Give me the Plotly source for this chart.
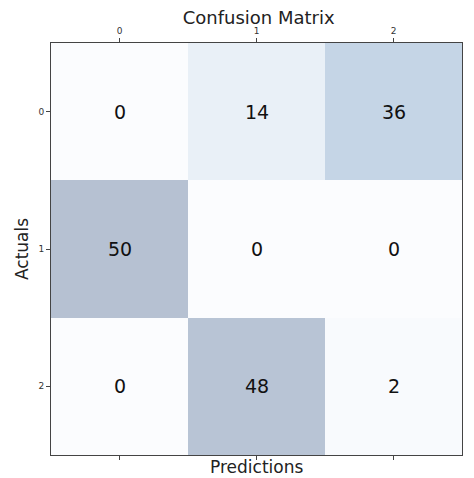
import plotly.graph_objects as go

# confusion matrix values (rows = actuals, cols = predictions)
labels = [0, 1, 2]
cm = [
    [0, 14, 36],
    [50, 0, 0],
    [0, 48, 2],
]

# washed-out "Blues" look of the original (imshow with alpha=0.3)
colorscale = [
    [0.0, "rgb(251,252,254)"],
    [0.28, "rgb(233,240,247)"],
    [0.72, "rgb(197,213,230)"],
    [1.0, "rgb(182,193,210)"],
]
line_col = "#444444"
font = "DejaVu Sans"

# the page body has an 8px margin, so the figure is sized to fit inside it
W, H = 466, 470

fig = go.Figure()
fig.add_trace(go.Heatmap(
    z=cm, x=labels, y=labels,
    colorscale=colorscale, zmin=0, zmax=50, showscale=False,
    text=cm, texttemplate="%{text}",
    textfont=dict(size=19, color="#111111", family=font),
    hoverinfo="skip",
))
# invisible trace so the bottom axis gets drawn
fig.add_trace(go.Scatter(x=labels, y=labels, xaxis="x2", mode="markers",
                         marker=dict(opacity=0), showlegend=False, hoverinfo="skip"))

fig.update_layout(
    width=W, height=H,
    margin=dict(l=43, r=12, t=35, b=23),
    paper_bgcolor="white", plot_bgcolor="white",
    font=dict(family=font, color="#222222"),
    title=dict(text="Confusion Matrix", x=0.538, xanchor="center",
               y=1 - 9.5 / H, yanchor="middle", yref="container",
               font=dict(size=18, color="#222222")),
    xaxis=dict(side="top", range=[-0.5, 2.5], tickvals=labels,
               ticks="outside", ticklen=4, tickcolor=line_col,
               tickfont=dict(size=9, color="#333333"), automargin=False,
               showline=True, linecolor=line_col, linewidth=1, mirror=True,
               showgrid=False, zeroline=False),
    xaxis2=dict(overlaying="x", side="bottom", anchor="y", range=[-0.5, 2.5],
                tickvals=labels, ticktext=["", "", ""], automargin=False,
                ticks="outside", ticklen=4, tickcolor=line_col,
                showgrid=False, zeroline=False),
    yaxis=dict(range=[2.5, -0.5], tickvals=labels, automargin=False,
               ticks="outside", ticklen=4, tickcolor=line_col,
               tickfont=dict(size=9, color="#333333"),
               showline=True, linecolor=line_col, linewidth=1, mirror=True,
               showgrid=False, zeroline=False),
    annotations=[
        dict(text="Predictions", xref="paper", yref="paper", x=0.5,
             y=-12 / 412, yanchor="middle", showarrow=False,
             font=dict(size=17, color="#222222")),
        dict(text="Actuals", xref="paper", yref="paper", x=-29 / 411,
             y=0.5, xanchor="center", textangle=-90, showarrow=False,
             font=dict(size=17, color="#222222")),
    ],
)

fig.write_html("out.html")
